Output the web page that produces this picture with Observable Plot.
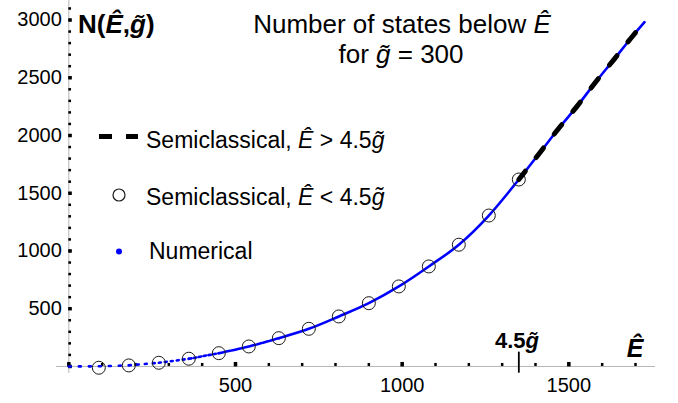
<!DOCTYPE html>
<html><head><meta charset="utf-8">
<script src="https://cdn.jsdelivr.net/npm/d3@7"></script>
<script src="https://cdn.jsdelivr.net/npm/@observablehq/plot@0.6"></script>
<style>html,body{margin:0;padding:0;background:#fff;overflow:hidden}</style>
</head><body><div id="chart"></div>
<script>
// ---- data ----
const numE = [0, 90, 180, 270, 360, 450, 540, 630, 720, 810, 900, 990, 1080, 1170, 1260, 1350, 1412, 1467, 1525, 1580, 1637, 1693, 1727];
const numN = [0, 2, 10, 32, 66, 115, 173, 245, 326, 433, 548, 693, 866, 1054, 1307, 1619, 1847, 2052, 2254, 2461, 2664, 2866, 2981];
const circE = [90, 180, 270, 360, 450, 540, 630, 720, 810, 900, 990, 1080, 1170, 1260, 1350];
const circN = [-11, 9, 32, 67, 115, 173, 245, 326, 433, 548, 693, 866, 1054, 1307, 1619];
const semiE = [1350, 1412, 1467, 1525, 1580, 1637, 1693, 1727];
const semiN = [1619, 1847, 2052, 2254, 2461, 2664, 2866, 2981];
const xTickLabels = [500, 1000, 1500];
const yTickLabels = [500, 1000, 1500, 2000, 2500, 3000];
const xMinorTicks = [0,100,200,300,400,500,600,700,800,900,1000,1100,1200,1300,1400,1500,1600,1700];
const yMinorTicks = [0,100,200,300,400,500,600,700,800,900,1000,1100,1200,1300,1400,1500,1600,1700,1800,1900,2000,2100,2200,2300,2400,2500,2600,2700,2800,2900,3000,3100];
const gTilde = 300;
const threshold = 4.5 * gTilde;

// ---- tables ----
const numData = numE.map((E, i) => ({E, N: numN[i]}));
const circData = circE.map((E, i) => ({E, N: circN[i]}));
const semiData = semiE.map((E, i) => ({E, N: semiN[i]}));
const xMajor = xMinorTicks.filter(d => d % 500 === 0);
const yMajor = yMinorTicks.filter(d => d % 500 === 0);

// dotted look of the sparse numerical points at low energy
const numStyles = [
  {from: 0, to: 180, dash: "2,8"},
  {from: 180, to: 270, dash: "2,6"},
  {from: 270, to: 360, dash: "2,4"},
  {from: 360, to: 450, dash: "2.5,2.5"},
  {from: 450, to: 630, dash: "5,1.5"},
  {from: 630, to: 1800, dash: null}
];
const BLUE = "#0000ff";
const FONT = "'Liberation Sans', Arial, Helvetica, sans-serif";

const marks = [
  Plot.ruleY([0], {stroke: "#b5b5b5", strokeWidth: 1}),
  Plot.ruleX([0], {stroke: "#b5b5b5", strokeWidth: 1}),
  Plot.ruleX(xMinorTicks, {x: d => d, y1: 0, y2: 0, insetTop: -3, insetBottom: 0, stroke: "black", strokeWidth: 2.5}),
  Plot.ruleX(xMajor, {x: d => d, y1: 0, y2: 0, insetTop: -4, insetBottom: -0.5, stroke: "black", strokeWidth: 3.5}),
  Plot.ruleY(yMinorTicks, {y: d => d, x1: 0, x2: 0, insetLeft: 0, insetRight: -2.7, stroke: "black", strokeWidth: 2.5}),
  Plot.ruleY(yMajor, {y: d => d, x1: 0, x2: 0, insetLeft: 0, insetRight: -3.5, stroke: "black", strokeWidth: 3.5}),
  Plot.ruleX([threshold], {x: d => d, y1: 0, y2: 0, insetTop: -14.3, insetBottom: -6.7, stroke: "black", strokeWidth: 1.8}),
  Plot.text(yTickLabels, {x: 0, y: d => d, text: d => String(d), textAnchor: "end", dx: -7, fontSize: 20, fill: "black"}),
  Plot.text(xTickLabels, {x: d => d, y: 0, text: d => String(d), dy: 19, fontSize: 20, fill: "black"}),
];
for (const s of numStyles) {
  marks.push(Plot.line(numData.filter(d => d.E >= s.from && d.E <= s.to), {
    x: "E", y: "N", stroke: BLUE, strokeWidth: 2.6,
    strokeDasharray: s.dash || undefined, curve: "monotone-x"
  }));
}
marks.push(Plot.dot(circData, {x: "E", y: "N", r: 6.5, stroke: "#1a1a1a", strokeWidth: 1, fill: "none"}));
marks.push(Plot.line(semiData, {x: "E", y: "N", stroke: "black", strokeWidth: 5, strokeDasharray: "12,17.5", strokeDashoffset: 1.5, curve: "monotone-x"}));

const chart = Plot.plot({
  width: 678, height: 403,
  marginLeft: 56, marginRight: 23, marginTop: 0, marginBottom: 30,
  x: {domain: [-37, 1760], axis: null},
  y: {domain: [-61, 3169], axis: null},
  style: {fontFamily: FONT, background: "white", color: "black"},
  marks
});
document.getElementById("chart").appendChild(chart);

// ---- annotations & legend (layout) ----
const svg = d3.select(chart);
const g = svg.append("g").attr("font-family", FONT).attr("fill", "black");
function addText(x, y, parts, opts = {}) {
  const t = g.append("text").attr("x", x).attr("y", y)
    .attr("font-size", opts.size || 20)
    .attr("text-anchor", opts.anchor || "start")
    .attr("font-weight", opts.weight || "normal");
  for (const p of parts) {
    const sp = t.append("tspan").text(p.t);
    if (p.i) sp.attr("font-style", "italic");
  }
  return t;
}
const Ehat = "\u00CA";
const gt = "g\u0303";
// title
addText(402, 33, [{t: "Number of states below "}, {t: Ehat, i: true}], {size: 26, anchor: "middle"});
addText(401, 63, [{t: "for "}, {t: gt, i: true}, {t: " = " + gTilde}], {size: 26, anchor: "middle"});
// axis labels
addText(78, 33, [{t: "N("}, {t: Ehat, i: true}, {t: ","}, {t: gt, i: true}, {t: ")"}], {size: 26, weight: "bold"});
addText(635, 357, [{t: Ehat, i: true}], {size: 25, weight: "bold", anchor: "middle"});
addText(517, 348, [{t: "4.5"}, {t: gt, i: true}], {size: 22, weight: "bold", anchor: "middle"});
// legend
g.append("line").attr("x1", 99).attr("x2", 138).attr("y1", 136.5).attr("y2", 136.5)
  .attr("stroke", "black").attr("stroke-width", 5).attr("stroke-dasharray", "13,14");
g.append("circle").attr("cx", 119).attr("cy", 195).attr("r", 6).attr("fill", "none").attr("stroke", "#1a1a1a").attr("stroke-width", 1.2);
g.append("circle").attr("cx", 119).attr("cy", 251.5).attr("r", 3).attr("fill", BLUE);
addText(146, 148, [{t: "Semiclassical, "}, {t: Ehat, i: true}, {t: " > 4.5"}, {t: gt, i: true}], {size: 23});
addText(146, 204.5, [{t: "Semiclassical, "}, {t: Ehat, i: true}, {t: " < 4.5"}, {t: gt, i: true}], {size: 23});
addText(149, 259, [{t: "Numerical"}], {size: 23});
</script></body></html>
